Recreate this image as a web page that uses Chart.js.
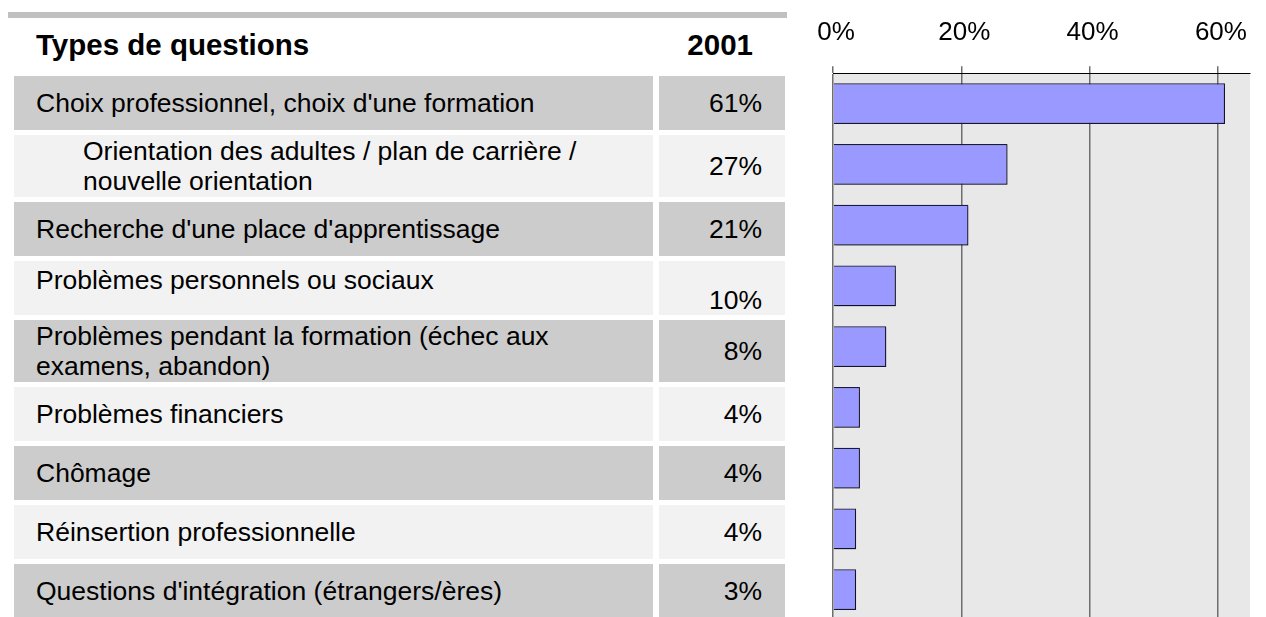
<!DOCTYPE html>
<html>
<head>
<meta charset="utf-8">
<script src="https://cdn.jsdelivr.net/npm/chart.js@4/dist/chart.umd.min.js"></script>
<style>
  body { margin: 0; width: 1266px; height: 617px; overflow: hidden; background: #fff; font-family: "Liberation Sans", Arial, sans-serif; }
  #topbar { position: absolute; left: 8px; top: 12px; width: 779px; height: 6px; background: #c0c0c0; }
  #tbl { position: absolute; left: 8px; top: 18px; width: 783px; table-layout: fixed; border-collapse: separate; border-spacing: 6px 5px; }
  #tbl td { padding: 0; font-size: 26.5px; line-height: 30px; color: #000; vertical-align: middle; white-space: nowrap; }
  #tbl td.lab { width: 617px; padding-left: 22px; }
  #tbl td.val { width: 103px; padding-right: 23px; text-align: right; }
  #tbl tr.head td { font-weight: bold; font-size: 29.5px; height: 44px; padding-bottom: 4px; }
  #tbl tr.head td.val { width: 94px; padding-right: 32px; }
  #tbl tr.dark td { background: #cccccc; }
  #tbl tr.light td { background: #f2f2f2; }
  #wrap { position: absolute; left: 790px; top: 0; width: 476px; height: 630px; }
</style>
</head>
<body>
<div id="topbar"></div>
<table id="tbl"><tbody id="rows"></tbody></table>
<div id="wrap"><canvas id="myChart" width="476" height="630"></canvas></div>
<script>
// Types de questions (lines as shown in the table)
let categories = [
  ["Choix professionnel, choix d'une formation"],
  ["Orientation des adultes / plan de carrière /", "nouvelle orientation"],
  ["Recherche d'une place d'apprentissage"],
  ["Problèmes personnels ou sociaux"],
  ["Problèmes pendant la formation (échec aux", "examens, abandon)"],
  ["Problèmes financiers"],
  ["Chômage"],
  ["Réinsertion professionnelle"],
  ["Questions d'intégration (étrangers/ères)"]
];
let tableValues = ["61%", "27%", "21%", "10%", "8%", "4%", "4%", "4%", "3%"];
let barValues = [61.1, 27.2, 21.1, 9.8, 8.3, 4.2, 4.2, 3.6, 3.6];
let tickValues = [0, 20, 40, 60];
let rowHeights = [54, 62, 54, 54, 62, 54, 54, 54, 54];

// table on the left
let rows = document.getElementById("rows");
let head = document.createElement("tr");
head.className = "head";
head.innerHTML = '<td class="lab">Types de questions</td><td class="val">2001</td>';
rows.appendChild(head);
for (let i = 0; i < categories.length; i++) {
  let tr = document.createElement("tr");
  tr.className = i % 2 === 0 ? "dark" : "light";
  let lab = document.createElement("td");
  lab.className = "lab";
  lab.innerHTML = categories[i].join("<br>");
  lab.style.height = rowHeights[i] + "px";
  if (i === 1) lab.style.paddingLeft = "69px";
  let val = document.createElement("td");
  val.className = "val";
  val.textContent = tableValues[i];
  if (i === 3) {
    lab.style.verticalAlign = "top";
    lab.style.paddingTop = "4px";
    lab.style.height = (rowHeights[i] - 4) + "px";
    val.style.verticalAlign = "bottom";
  }
  tr.appendChild(lab);
  tr.appendChild(val);
  rows.appendChild(tr);
}

// grey plot background
const plotBg = {
  id: "plotBg",
  beforeDraw(chart) {
    let a = chart.chartArea;
    let ctx = chart.ctx;
    ctx.save();
    ctx.fillStyle = "#e8e8e8";
    ctx.fillRect(a.left, a.top, a.right - a.left, a.bottom - a.top);
    ctx.restore();
  }
};

// small drop shadow under the bars
const barShadow = {
  id: "barShadow",
  beforeDatasetDraw(chart) {
    let ctx = chart.ctx;
    ctx.save();
    ctx.shadowColor = "rgba(0,0,0,0.35)";
    ctx.shadowOffsetX = 1;
    ctx.shadowOffsetY = 1;
    ctx.shadowBlur = 1;
  },
  afterDatasetDraw(chart) {
    chart.ctx.restore();
  }
};

new Chart("myChart", {
  type: "bar",
  data: {
    labels: categories.map(c => c.join(" ")),
    datasets: [
      {
        data: barValues,
        backgroundColor: "#9999ff",
        borderColor: "#1a1a40",
        borderWidth: 1.2,
        barPercentage: 0.67,
        categoryPercentage: 1
      }
    ]
  },
  options: {
    indexAxis: "y",
    responsive: false,
    animation: false,
    layout: { padding: { left: 43, right: 16, top: -1, bottom: 10 } },
    plugins: { legend: { display: false }, tooltip: { enabled: false } },
    scales: {
      x: {
        position: "top",
        min: 0,
        max: 65,
        afterBuildTicks: scale => {
          scale.ticks = tickValues.map(v => ({ value: v }));
        },
        ticks: {
          callback: v => v + "%",
          color: "#000",
          font: { family: "Liberation Sans", size: 26 },
          padding: 18,
          maxRotation: 0,
          labelOffset: 3
        },
        grid: { color: "#6e6e6e", lineWidth: 1.5, tickLength: 7, tickColor: "#6e6e6e" },
        border: { display: true, color: "#000", width: 1 }
      },
      y: { display: false }
    }
  },
  plugins: [plotBg, barShadow]
});
</script>
</body>
</html>
